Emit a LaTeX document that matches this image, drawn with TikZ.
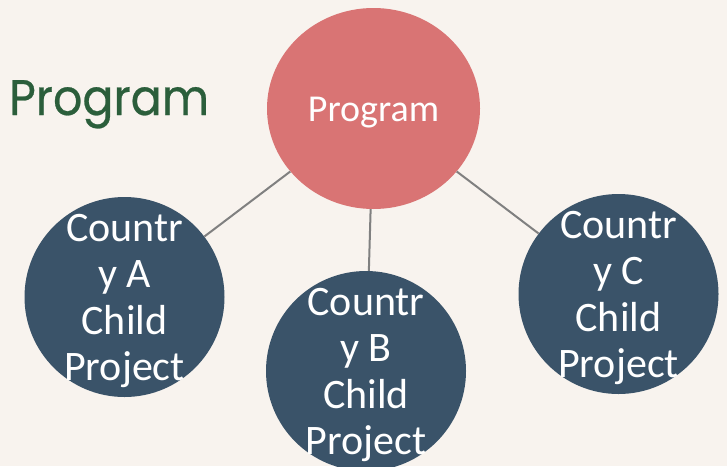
\documentclass[tikz,border=0pt]{standalone}
\usepackage{fontspec}
\setmainfont{Carlito}
\newfontfamily\titlefont[FakeStretch=0.92,FakeBold=0.5]{Poppins}
\usetikzlibrary{shapes.geometric}
\definecolor{bgcol}{HTML}{F8F3EE}
\definecolor{progcol}{HTML}{D97474}
\definecolor{childcol}{HTML}{3A5369}
\definecolor{titlecol}{HTML}{2B5E3B}
\definecolor{linkcol}{HTML}{808080}
\tikzset{every node/.append style={transform shape=false}}
\tikzset{
  parent/.style={ellipse,fill=progcol,minimum width=213pt,minimum height=201pt,
    inner sep=0pt},
  child/.style={circle,fill=childcol,minimum size=200pt,inner sep=0pt},
  childtext/.style={text=white,align=center,inner sep=0pt,yshift=-4pt,
    font=\fontsize{42}{46.5}\selectfont},
  link/.style={draw=linkcol,line width=2pt}
}

\begin{document}
\begin{tikzpicture}[x=1pt,y=-1pt]
  \fill[bgcol] (0,0) rectangle (727,466);
  \useasboundingbox (0,0) rectangle (727,466);
  \clip (0,0) rectangle (727,466);
  \node[anchor=base west,text=titlecol,inner sep=0pt,
        font=\titlefont\fontsize{50}{56}\selectfont] (title) at (9,115) {Program};
  \node[parent] (prog) at (373.5,108.5) {};
  \node[text=white,inner sep=0pt,anchor=base,font=\fontsize{38}{44}\selectfont]
    (progtext) at (373.5,121) {Program};
  \node[child,label={[childtext]center:Countr\\y A\\Child\\Project}] (ca) at (124.5,297) {};
  \node[child,label={[childtext]center:Countr\\y B\\Child\\Project}] (cb) at (366,371) {};
  \node[child,label={[childtext]center:Countr\\y C\\Child\\Project}] (cc) at (618.5,294) {};
  \draw[link] (prog) -- (ca);
  \draw[link] (prog) -- (cb);
  \draw[link] (prog) -- (cc);
\end{tikzpicture}
\end{document}
